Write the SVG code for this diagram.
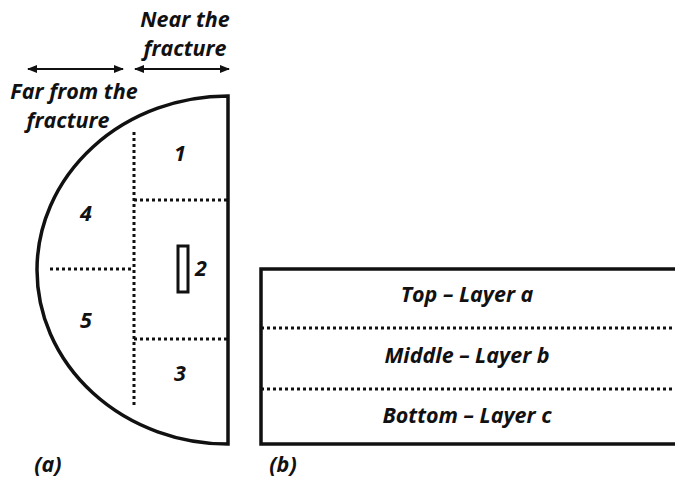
<svg xmlns="http://www.w3.org/2000/svg" width="675" height="483" viewBox="0 0 675 483">
<defs>
<style>
text{font-family:"Open Sans",Lato,"Liberation Sans",sans-serif;font-weight:bold;font-style:italic;font-size:21.5px;fill:#111;text-anchor:middle}
.thick{fill:none;stroke:#111;stroke-width:3.5}
.dot{fill:none;stroke:#111;stroke-width:3;stroke-dasharray:3 3}
.arr{stroke:#111;stroke-width:2;marker-start:url(#ah);marker-end:url(#ah)}
</style>
<marker id="ah" viewBox="0 0 10 10" refX="9" refY="5" markerWidth="5" markerHeight="5" orient="auto-start-reverse">
<path d="M0,1 L10,5 L0,9 Z" fill="#111"/>
</marker>
</defs>
<rect width="675" height="483" fill="#fff"/>
<g id="labels-top">
<text x="185" y="27">Near the</text>
<text x="185" y="56">fracture</text>
<text x="74" y="99">Far from the</text>
<text x="68" y="128">fracture</text>
</g>
<g id="connectors">
<line class="arr" x1="28" y1="69" x2="123" y2="69"/>
<line class="arr" x1="135" y1="69" x2="229" y2="69"/>
</g>
<g id="halfdisc">
<path class="thick" d="M228,96 A191,174 0 0 0 228,444 Z"/>
<line class="dot" x1="134" y1="132" x2="134" y2="406"/>
<line class="dot" x1="134" y1="200" x2="228" y2="200"/>
<line class="dot" x1="50" y1="269" x2="134" y2="269"/>
<line class="dot" x1="134" y1="339" x2="228" y2="339"/>
<rect x="178" y="246" width="10" height="46" fill="none" stroke="#111" stroke-width="3"/>
<text x="180" y="161">1</text>
<text x="201" y="276">2</text>
<text x="180" y="381">3</text>
<text x="86" y="221">4</text>
<text x="86" y="328">5</text>
</g>
<g id="layers">
<rect class="thick" x="261" y="269" width="430" height="175"/>
<line class="dot" x1="261" y1="328" x2="675" y2="328"/>
<line class="dot" x1="261" y1="389" x2="675" y2="389"/>
<text x="467" y="302">Top – Layer a</text>
<text x="467" y="363">Middle – Layer b</text>
<text x="467" y="423">Bottom – Layer c</text>
</g>
<g id="captions">
<text x="48" y="472">(a)</text>
<text x="283" y="472">(b)</text>
</g>
</svg>
